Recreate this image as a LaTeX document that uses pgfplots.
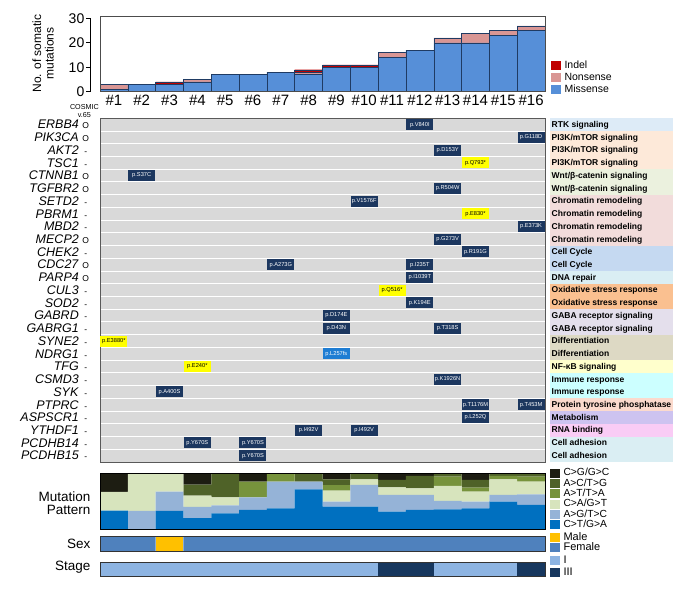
\documentclass[border=0pt]{standalone}
\usepackage{pgfplots}
\usepackage{pgfplotstable}
\pgfplotsset{compat=1.18}
\usepackage{fontspec}
\setmainfont{Liberation Sans}
\setlength{\fboxsep}{0pt}
\newcommand\fs[1]{\fontsize{#1}{#1}\selectfont}
\newcommand\mk[1]{\makebox[14pt]{\fs{8.5}#1}}
\newcommand\gn[2]{\textit{#1}\mk{#2}}
\newcommand\pw[2]{\colorbox{#1}{\makebox[123pt][l]{\rule[-3.6pt]{0pt}{12.8pt}\hspace{1.5pt}\bfseries #2}}}

\definecolor{missense}{HTML}{568FD8}
\definecolor{nonsense}{HTML}{D99694}
\definecolor{indel}{HTML}{C00000}
\definecolor{edge}{HTML}{1F3B63}
\definecolor{hmgray}{HTML}{D9D9D9}
\definecolor{tilenavy}{HTML}{1C375F}
\definecolor{tileyel}{HTML}{FFFF00}
\definecolor{tileblue}{HTML}{1E7DD3}
\definecolor{cCG}{HTML}{1D1D12}
\definecolor{cAC}{HTML}{4F6228}
\definecolor{cAT}{HTML}{77933C}
\definecolor{cCA}{HTML}{D7E4BD}
\definecolor{cAG}{HTML}{95B3D7}
\definecolor{cCT}{HTML}{0070C0}
\definecolor{female}{HTML}{4F81BD}
\definecolor{male}{HTML}{FFC000}
\definecolor{stI}{HTML}{8DB4E2}
\definecolor{stIII}{HTML}{17375E}
\definecolor{pRTK}{HTML}{DDEBF7}
\definecolor{pPI}{HTML}{FDE9D9}
\definecolor{pWnt}{HTML}{EBF1DE}
\definecolor{pChr}{HTML}{F2DCDB}
\definecolor{pCC}{HTML}{C5D9F1}
\definecolor{pDNA}{HTML}{DAEEF3}
\definecolor{pOx}{HTML}{FAC090}
\definecolor{pGABA}{HTML}{E4DFEC}
\definecolor{pDiff}{HTML}{DDD9C4}
\definecolor{pNF}{HTML}{FFFFCC}
\definecolor{pImm}{HTML}{CCFFFF}
\definecolor{pPTP}{HTML}{FBDACD}
\definecolor{pMet}{HTML}{CDC3F0}
\definecolor{pRNA}{HTML}{F9CCF5}
\definecolor{pAdh}{HTML}{DAEEF3}

% somatic mutations per patient
\pgfplotstableread{
x M N I
1 1 2 0
2 3 0 0
3 3 0 1
4 4 1 0
5 7 0 0
6 7 0 0
7 8 0 0
8 7 1 1
9 10 0 1
10 10 0 1
11 14 2 0
12 17 0 0
13 20 2 0
14 20 4 0
15 23 2 0
16 25 2 0
}\muttab

% mutation pattern, percent of SNVs
\pgfplotstableread{
x CT AG CA AT AC CG
1 33.3 0 33.4 0 0 33.3
2 0 32.7 67.3 0 0 0
3 32.7 34.6 32.7 0 0 0
4 20 20 20 0 20 20
5 28.6 14.3 14.3 0 42.8 0
6 34.5 22.6 0 28 0 14.9
7 37.5 47.6 0 14.9 0 0
8 71.4 13.7 0 0 14.9 0
9 40.5 8.9 19.6 10.1 10.1 10.8
10 40.5 38.7 10.1 0 10.7 0
11 31.5 29.8 13.7 0 13.1 11.9
12 34.5 26.8 11.9 0 22.0 4.8
13 35.7 14.9 26.8 16.6 6.0 0
14 37.5 11.9 17.9 7.1 13.7 11.9
15 49.4 11.9 28.0 6.0 4.7 0
16 43.5 19.0 22.6 8.9 6.0 0
}\pattab

% missense tiles (patient, gene row, change)
\pgfplotstableread{
x y lab
12 1 p.V840I
16 2 p.G118D
13 3 p.D153Y
2 5 p.S37C
13 6 p.R504W
10 7 p.V1576F
16 9 p.E373K
13 10 p.G273V
14 11 p.R191G
7 12 p.A273G
12 12 p.I235T
12 13 p.I1039T
12 15 p.K194E
9 16 p.D174E
9 17 p.D43N
13 17 p.T318S
13 21 p.K1926N
3 22 p.A400S
14 23 p.T1176M
16 23 p.T453M
14 24 p.L252Q
8 25 p.I492V
10 25 p.I492V
4 26 p.Y670S
6 26 p.Y670S
6 27 p.Y670S
}\navytab

% nonsense tiles
\pgfplotstableread{
x y lab
14 4 p.Q793*
14 8 p.E830*
11 14 p.Q516*
1 18 p.E3880*
4 20 p.E240*
}\yeltab

% indel tile
\pgfplotstableread{
x y lab
9 19 p.L257fs
}\indtab

\pgfplotsset{
  sqlegend/.style={
    legend cell align=left,
    legend image code/.code={\path[##1,draw=none] (0pt,-4.5pt) rectangle (9.5pt,4.5pt);},
    legend style={draw=none, fill=none, inner sep=0pt, outer sep=0pt, row sep=0pt,
      anchor=north west, /tikz/every odd column/.append style={column sep=4pt}},
  },
  tiles/.style={only marks, mark=none, nodes near coords, point meta=explicit symbolic,
    every node near coord/.append style={anchor=center, inner sep=0pt, font=\fs{5.7},
      minimum width=27pt, minimum height=11pt}},
}

\begin{document}
\begin{tikzpicture}
\useasboundingbox (0pt,0pt) rectangle (685pt,-591pt);

% top: number of somatic mutations
\begin{axis}[at={(100pt,-91.7pt)}, anchor=south west, width=445pt, height=75.7pt,
  scale only axis, axis on top,
  xmin=0.5, xmax=16.5, ymin=0, ymax=31,
  ybar stacked, bar width=1,
  ytick=\empty, xtick={1,...,16},
  xticklabels={\#1,\#2,\#3,\#4,\#5,\#6,\#7,\#8,\#9,\#10,\#11,\#12,\#13,\#14,\#15,\#16},
  xticklabel style={font=\fs{15}, inner sep=0pt, anchor=north},
  xticklabel shift=3.5pt, major tick length=0,
  axis line style={draw=black!70, line width=0.6pt},
  every axis plot/.append style={draw=edge, line width=0.4pt},
  sqlegend, reverse legend,
  legend style={at={(axis description cs:1.0135,0.42)}, font=\fs{10.5},
    nodes={inner sep=0pt, text height=8.5pt, text depth=3.5pt}},
]
\addplot[fill=missense] table[x=x,y=M]{\muttab};
\addplot[fill=nonsense] table[x=x,y=N]{\muttab};
\addplot[fill=indel] table[x=x,y=I]{\muttab};
\legend{Missense,Nonsense,Indel}
\end{axis}

% top: y axis
\begin{axis}[at={(90pt,-91.7pt)}, anchor=south west, width=10pt, height=73.3pt,
  scale only axis, xmin=0, xmax=1, ymin=0, ymax=30,
  axis x line=none, axis y line=left, y axis line style={-, line width=0.9pt},
  ytick={0,10,20,30}, tick align=outside, major tick length=4pt,
  every tick/.style={black, line width=0.9pt},
  yticklabel style={font=\fs{14}, inner sep=0pt, anchor=east},
  yticklabel shift=1.5pt, /pgf/number format/assume math mode=true,
  ylabel={No. of somatic\\mutations},
  every axis y label/.style={at={(axis description cs:-4.7,0.52)}, rotate=90,
    anchor=center, align=center, font=\fontsize{12}{12.5}\selectfont},
]
\end{axis}

% heatmap of mutations
\begin{axis}[at={(100pt,-118.3pt)}, anchor=north west, width=445pt, height=343.7pt,
  scale only axis, clip=false,
  xmin=0.5, xmax=16.5, ymin=0.5, ymax=27.5, y dir=reverse,
  axis background/.style={fill=hmgray},
  xtick=\empty, ytick={1,...,27},
  yticklabels={\gn{ERBB4}{O},\gn{PIK3CA}{O},\gn{AKT2}{-},\gn{TSC1}{-},\gn{CTNNB1}{O},
    \gn{TGFBR2}{O},\gn{SETD2}{-},\gn{PBRM1}{-},\gn{MBD2}{-},\gn{MECP2}{O},\gn{CHEK2}{-},
    \gn{CDC27}{O},\gn{PARP4}{O},\gn{CUL3}{-},\gn{SOD2}{-},\gn{GABRD}{-},\gn{GABRG1}{-},
    \gn{SYNE2}{-},\gn{NDRG1}{-},\gn{TFG}{-},\gn{CSMD3}{-},\gn{SYK}{-},\gn{PTPRC}{-},
    \gn{ASPSCR1}{-},\gn{YTHDF1}{-},\gn{PCDHB14}{-},\gn{PCDHB15}{-}},
  yticklabel style={font=\fs{12.5}, inner sep=0pt, anchor=east},
  yticklabel shift=7pt,
  major tick length=0, minor tick length=0,
  minor xtick={1.5,2.5,...,15.5}, minor ytick={1.5,2.5,...,26.5},
  xminorgrids, yminorgrids, minor grid style={white, line width=1pt},
  axis line style={draw=black!65, line width=0.8pt},
]
\addplot[tiles, every node near coord/.append style={fill=tilenavy, text=white}]
  table[x=x,y=y,meta=lab]{\navytab};
\addplot[tiles, every node near coord/.append style={fill=tileyel, text=black}]
  table[x=x,y=y,meta=lab]{\yeltab};
\addplot[tiles, every node near coord/.append style={fill=tileblue, text=white}]
  table[x=x,y=y,meta=lab]{\indtab};
\node[font=\fontsize{7.2}{8}\selectfont, align=center, anchor=south, inner sep=0pt]
  at (axis description cs:-0.035,1.003) {COSMIC\\v.65};
\end{axis}

% pathway labels on the right
\begin{axis}[at={(100pt,-118.3pt)}, anchor=north west, width=445pt, height=343.7pt,
  scale only axis,
  xmin=0.5, xmax=16.5, ymin=0.5, ymax=27.5, y dir=reverse,
  axis x line=none, axis y line*=right, y axis line style={draw=none},
  ytick={1,...,27}, major tick length=0,
  yticklabels={\pw{pRTK}{RTK signaling},\pw{pPI}{PI3K/mTOR signaling},
    \pw{pPI}{PI3K/mTOR signaling},\pw{pPI}{PI3K/mTOR signaling},
    \pw{pWnt}{Wnt/β-catenin signaling},\pw{pWnt}{Wnt/β-catenin signaling},
    \pw{pChr}{Chromatin remodeling},\pw{pChr}{Chromatin remodeling},
    \pw{pChr}{Chromatin remodeling},\pw{pChr}{Chromatin remodeling},
    \pw{pCC}{Cell Cycle},\pw{pCC}{Cell Cycle},\pw{pDNA}{DNA repair},
    \pw{pOx}{Oxidative stress response},\pw{pOx}{Oxidative stress response},
    \pw{pGABA}{GABA receptor signaling},\pw{pGABA}{GABA receptor signaling},
    \pw{pDiff}{Differentiation},\pw{pDiff}{Differentiation},
    \pw{pNF}{NF-κB signaling},\pw{pImm}{Immune response},\pw{pImm}{Immune response},
    \pw{pPTP}{Protein tyrosine phosphatase},\pw{pMet}{Metabolism},
    \pw{pRNA}{RNA binding},\pw{pAdh}{Cell adhesion},\pw{pAdh}{Cell adhesion}},
  yticklabel style={font=\fs{8.5}, inner sep=0pt, anchor=west},
  yticklabel shift=5pt,
]
\end{axis}

% mutation pattern
\begin{axis}[at={(100pt,-473.3pt)}, anchor=north west, width=445pt, height=56pt,
  scale only axis, axis on top,
  xmin=0.5, xmax=16.5, ymin=0, ymax=100,
  ybar stacked, bar width=1, xtick=\empty, ytick=\empty,
  axis line style={line width=1pt},
  every axis plot/.append style={draw=none},
  ylabel={Mutation\\Pattern},
  every axis y label/.style={at={(axis description cs:-0.0135,0.47)}, anchor=east,
    align=right, font=\fontsize{13.5}{13.3}\selectfont},
  sqlegend, reverse legend,
  legend style={at={(axis description cs:1.0113,1.093)}, font=\fs{10.3},
    nodes={inner sep=0pt, text height=7.8pt, text depth=2.5pt}},
]
\addplot[fill=cCT] table[x=x,y=CT]{\pattab};
\addplot[fill=cAG] table[x=x,y=AG]{\pattab};
\addplot[fill=cCA] table[x=x,y=CA]{\pattab};
\addplot[fill=cAT] table[x=x,y=AT]{\pattab};
\addplot[fill=cAC] table[x=x,y=AC]{\pattab};
\addplot[fill=cCG] table[x=x,y=CG]{\pattab};
\legend{C>T/G>A,A>G/T>C,C>A/G>T,A>T/T>A,A>C/T>G,C>G/G>C}
\end{axis}

% sex
\begin{axis}[at={(100pt,-536pt)}, anchor=north west, width=445pt, height=15pt,
  scale only axis, axis on top,
  xmin=0.5, xmax=16.5, ymin=0, ymax=1,
  ybar, bar width=1, bar shift=0pt, xtick=\empty, ytick=\empty,
  axis line style={draw=black!80, line width=0.9pt},
  every axis plot/.append style={draw=none},
  ylabel={Sex},
  every axis y label/.style={at={(axis description cs:-0.0135,0.5)}, anchor=east,
    font=\fs{13.5}},
  sqlegend, reverse legend,
  legend style={at={(axis description cs:1.0113,1.25)}, font=\fs{11},
    nodes={inner sep=0pt, text height=7.8pt, text depth=2.2pt}},
]
\addplot[fill=female] coordinates {(1,1) (2,1) (4,1) (5,1) (6,1) (7,1) (8,1) (9,1)
  (10,1) (11,1) (12,1) (13,1) (14,1) (15,1) (16,1)};
\addplot[fill=male] coordinates {(3,1)};
\legend{Female,Male}
\end{axis}

% stage
\begin{axis}[at={(100pt,-562pt)}, anchor=north west, width=445pt, height=14pt,
  scale only axis, axis on top,
  xmin=0.5, xmax=16.5, ymin=0, ymax=1,
  ybar, bar width=1, bar shift=0pt, xtick=\empty, ytick=\empty,
  axis line style={draw=black!80, line width=0.9pt},
  every axis plot/.append style={draw=none},
  ylabel={Stage},
  every axis y label/.style={at={(axis description cs:-0.0135,0.62)}, anchor=east,
    font=\fs{13.5}},
  sqlegend,
  legend style={at={(axis description cs:1.0113,1.52)}, font=\fs{11},
    nodes={inner sep=0pt, text height=8.5pt, text depth=3.5pt}},
]
\addplot[fill=stI] coordinates {(1,1) (2,1) (3,1) (4,1) (5,1) (6,1) (7,1) (8,1)
  (9,1) (10,1) (13,1) (14,1) (15,1)};
\addplot[fill=stIII] coordinates {(11,1) (12,1) (16,1)};
\legend{I,III}
\end{axis}
\end{tikzpicture}
\end{document}
